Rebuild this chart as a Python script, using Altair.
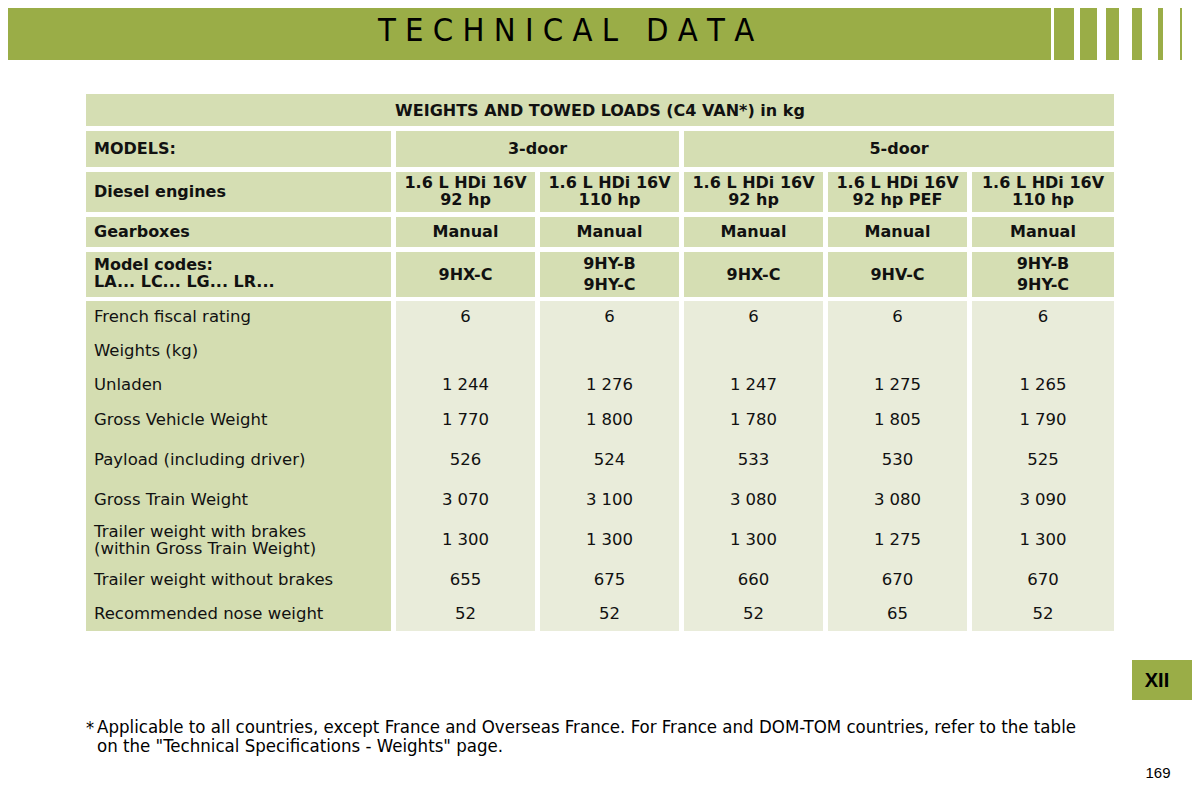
import altair as alt
import pandas as pd

# ---------------- data ----------------
table_title = "WEIGHTS AND TOWED LOADS (C4 VAN*) in kg"
models_label = "MODELS:"
body_types = ["3-door", "5-door"]
engine_line1 = ["1.6 L HDi 16V"] * 5
engine_line2 = ["92 hp", "110 hp", "92 hp", "92 hp PEF", "110 hp"]
gearboxes = ["Manual", "Manual", "Manual", "Manual", "Manual"]
model_codes = [["9HX-C"], ["9HY-B", "9HY-C"], ["9HX-C"], ["9HV-C"], ["9HY-B", "9HY-C"]]
row_labels = [
    ["French fiscal rating"],
    ["Weights (kg)"],
    ["Unladen"],
    ["Gross Vehicle Weight"],
    ["Payload (including driver)"],
    ["Gross Train Weight"],
    ["Trailer weight with brakes", "(within Gross Train Weight)"],
    ["Trailer weight without brakes"],
    ["Recommended nose weight"],
]
fiscal = [6, 6, 6, 6, 6]
unladen = [1244, 1276, 1247, 1275, 1265]
gvw = [1770, 1800, 1780, 1805, 1790]
payload = [526, 524, 533, 530, 525]
gtw = [3070, 3100, 3080, 3080, 3090]
trailer_braked = [1300, 1300, 1300, 1275, 1300]
trailer_unbraked = [655, 675, 660, 670, 670]
nose_weight = [52, 52, 52, 65, 52]
footnote_mark = "*"
footnote = [
    "Applicable to all countries, except France and Overseas France. For France and DOM-TOM countries, refer to the table",
    "on the \"Technical Specifications - Weights\" page.",
]
page_title = "TECHNICAL DATA"
section = "XII"
page_number = "169"

# ---------------- layout ----------------
col_edges = [(86, 391), (396, 535), (540, 679), (684, 823), (828, 967), (972, 1114)]
door_edges = [(396, 679), (684, 1114)]
hdr_rows = {"title": (94, 126), "models": (131, 167), "engines": (172, 212),
            "gear": (217, 247), "codes": (252, 297)}
body_rows = (301, 631)
row_y = [317, 351, 385, 420, 460, 500, 540, 580, 614]
stripes = [(1054, 1074), (1080, 1097), (1106, 1119), (1132, 1142), (1158, 1163), (1180, 1182)]

HDR = "#d5deb3"
LABEL = "#d4ddb1"
CELL = "#e9ecda"
GREEN = "#9aad47"
FONT = "DejaVu Sans, Verdana, sans-serif"
NARROW = "Liberation Sans Narrow, Arial Narrow, DejaVu Sans Condensed, sans-serif"
NBSP = "\u00a0"


def fmt(v):
    return f"{v:,}".replace(",", NBSP)


rects = []
rects.append(dict(x=0, x2=1051, y=0, y2=60, fill=GREEN))
for a, b in stripes:
    rects.append(dict(x=a, x2=b, y=0, y2=60, fill=GREEN))
rects.append(dict(x=1132, x2=1200, y=660, y2=700, fill=GREEN))
t0, t1 = hdr_rows["title"]
rects.append(dict(x=86, x2=1114, y=t0, y2=t1, fill=HDR))
m0, m1 = hdr_rows["models"]
rects.append(dict(x=col_edges[0][0], x2=col_edges[0][1], y=m0, y2=m1, fill=HDR))
for a, b in door_edges:
    rects.append(dict(x=a, x2=b, y=m0, y2=m1, fill=HDR))
for key in ["engines", "gear", "codes"]:
    r0, r1 = hdr_rows[key]
    for a, b in col_edges:
        rects.append(dict(x=a, x2=b, y=r0, y2=r1, fill=HDR))
for i, (a, b) in enumerate(col_edges):
    rects.append(dict(x=a, x2=b, y=body_rows[0], y2=body_rows[1], fill=LABEL if i == 0 else CELL))
rect_df = pd.DataFrame(rects)

xs = alt.Scale(domain=[8, 1192], nice=False, zero=False)
ys = alt.Scale(domain=[8, 792], nice=False, zero=False, reverse=True)

base_rect = alt.Chart(rect_df).mark_rect(strokeWidth=0).encode(
    x=alt.X("x:Q", scale=xs, axis=None),
    x2="x2:Q",
    y=alt.Y("y:Q", scale=ys, axis=None),
    y2="y2:Q",
    color=alt.Color("fill:N", scale=None, legend=None),
)

centers = [(a + b) / 2 for a, b in col_edges]

bold_center, bold_left, reg_center, reg_left = [], [], [], []
bold_center.append(dict(x=600, y=(t0 + t1) / 2 + 1, t=table_title))
bold_left.append(dict(x=94, y=(m0 + m1) / 2, t=models_label))
for (a, b), name in zip(door_edges, body_types):
    bold_center.append(dict(x=(a + b) / 2, y=(m0 + m1) / 2, t=name))
e0, e1 = hdr_rows["engines"]
bold_left.append(dict(x=94, y=(e0 + e1) / 2, t="Diesel engines"))
for c, l1, l2 in zip(centers[1:], engine_line1, engine_line2):
    bold_center.append(dict(x=c, y=183, t=l1))
    bold_center.append(dict(x=c, y=200, t=l2))
g0, g1 = hdr_rows["gear"]
bold_left.append(dict(x=94, y=(g0 + g1) / 2, t="Gearboxes"))
for c, g in zip(centers[1:], gearboxes):
    bold_center.append(dict(x=c, y=(g0 + g1) / 2, t=g))
c0, c1 = hdr_rows["codes"]
bold_left.append(dict(x=94, y=265, t="Model codes:"))
bold_left.append(dict(x=94, y=282, t="LA... LC... LG... LR..."))
for c, codes in zip(centers[1:], model_codes):
    if len(codes) == 1:
        bold_center.append(dict(x=c, y=(c0 + c1) / 2, t=codes[0]))
    else:
        bold_center.append(dict(x=c, y=264, t=codes[0]))
        bold_center.append(dict(x=c, y=285, t=codes[1]))

value_rows = [fiscal, None, unladen, gvw, payload, gtw, trailer_braked, trailer_unbraked, nose_weight]
for yy, labels, vals in zip(row_y, row_labels, value_rows):
    if len(labels) == 1:
        reg_left.append(dict(x=94, y=yy, t=labels[0]))
    else:
        reg_left.append(dict(x=94, y=yy - 8.5, t=labels[0]))
        reg_left.append(dict(x=94, y=yy + 8.5, t=labels[1]))
    if vals is not None:
        for c, v in zip(centers[1:], vals):
            reg_center.append(dict(x=c, y=yy, t=fmt(v)))

spaced_title = NBSP.join(page_title).replace(NBSP + " " + NBSP, NBSP * 3)


def text_layer(rows, align, weight, size, font=FONT, color="#111111", baseline="middle", **kw):
    return alt.Chart(pd.DataFrame(rows)).mark_text(
        align=align, baseline=baseline, fontWeight=weight, fontSize=size, font=font, color=color, **kw
    ).encode(
        x=alt.X("x:Q", scale=xs, axis=None),
        y=alt.Y("y:Q", scale=ys, axis=None),
        text="t:N",
    )


layers = [
    base_rect,
    text_layer(bold_center, "center", "bold", 16),
    text_layer(bold_left, "left", "bold", 16),
    text_layer(reg_center, "center", "normal", 16.5),
    text_layer(reg_left, "left", "normal", 16.5),
    text_layer([dict(x=566, y=31, t=spaced_title)], "center", "normal", 32.5, NARROW, "#000000"),
    text_layer([dict(x=86, y=729, t=footnote_mark)], "left", "normal", 18, NARROW, "#000000"),
    text_layer([dict(x=97, y=733, t="\n".join(footnote))],
               "left", "normal", 18.5, NARROW, "#000000", baseline="alphabetic",
               lineBreak="\n", lineHeight=19),
    text_layer([dict(x=1157, y=681, t=section)], "center", "bold", 20, "Liberation Sans, Arial, sans-serif", "#000000"),
    text_layer([dict(x=1158, y=773, t=page_number)], "center", "normal", 15, "Liberation Sans, Arial, sans-serif", "#000000"),
]

chart = alt.layer(*layers).properties(
    width=1184, height=784, padding=0, autosize=alt.AutoSizeParams(type="none"),
    background="white",
).configure_view(stroke=None)

chart.save("out.html", embed_options={"renderer": "svg", "actions": False})
